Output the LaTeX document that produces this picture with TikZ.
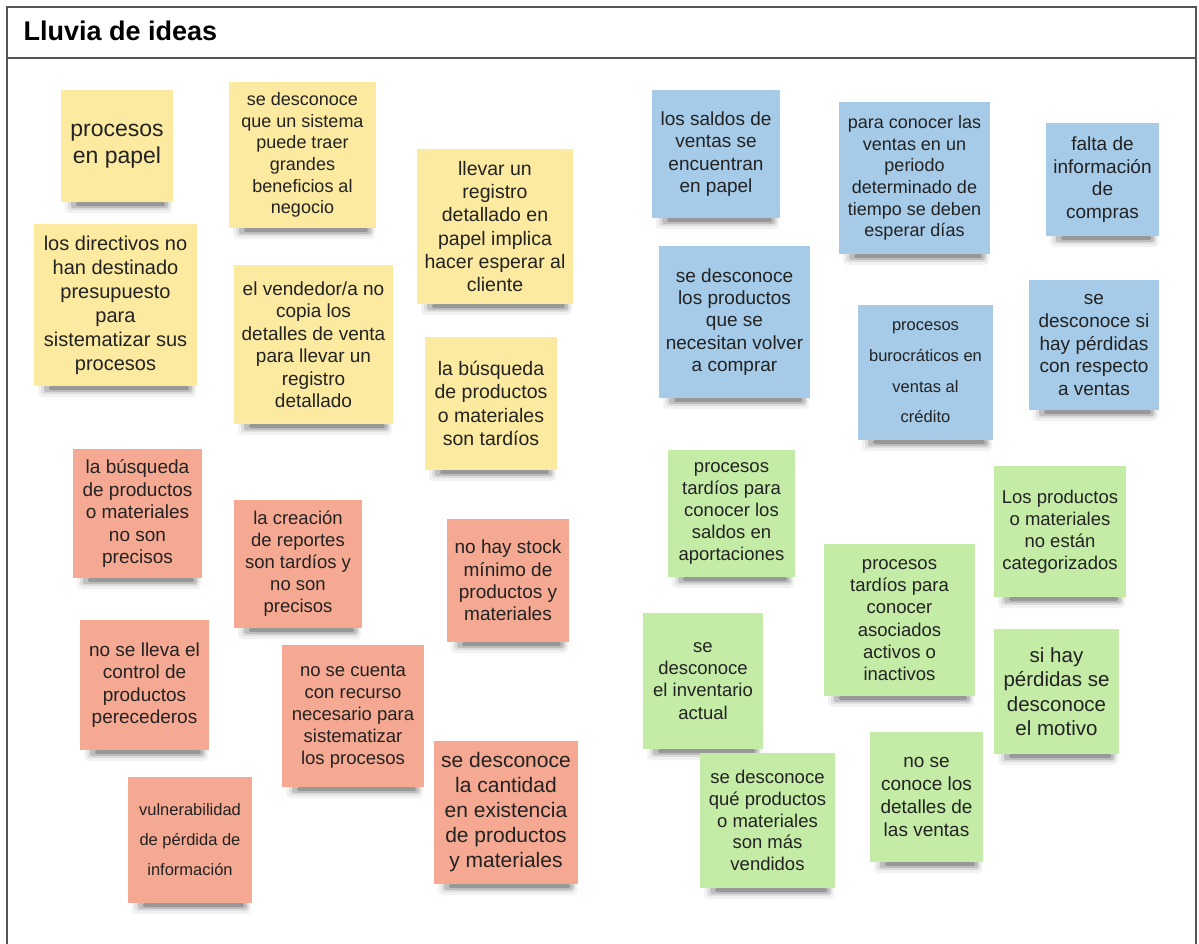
\documentclass[tikz,border=0pt]{standalone}
\usepackage{fontspec}
\setmainfont{Liberation Sans}
\definecolor{ynote}{RGB}{252,234,160}
\definecolor{rnote}{RGB}{246,169,146}
\definecolor{bnote}{RGB}{166,203,232}
\definecolor{gnote}{RGB}{196,236,167}
\definecolor{framecol}{RGB}{85,85,85}
\definecolor{notetext}{RGB}{34,34,34}
\tikzset{
  note/.style={rectangle, inner sep=0pt, align=center, text=notetext},
  framebox/.style={draw=framecol, line width=1.6pt},
}
\newcommand\stickynote[9]{%
  \fill[black,opacity=.05,rounded corners=4pt] (#2+4,#5-3) rectangle (#4-1,#5+11);
  \fill[black,opacity=.08,rounded corners=3pt] (#2+7,#5-2) rectangle (#4-3,#5+8);
  \fill[black,opacity=.14,rounded corners=2pt] (#2+10,#5-1) rectangle (#4-5,#5+6);
  \fill[black,opacity=.20,rounded corners=1.5pt] (#2+15,#5) rectangle (#4-8,#5+4);
  \pgfmathsetmacro\nw{#4-#2}\pgfmathsetmacro\nh{#5-#3}%
  \node[note,fill=#6,minimum width=\nw pt,minimum height=\nh pt,
        font=\fontsize{#7}{#8}\selectfont] (#1) at ({(#2+#4)/2},{(#3+#5)/2}) {#9};%
}
\begin{document}
\begin{tikzpicture}[x=1pt,y=-1pt]
\useasboundingbox (0,0) rectangle (1199,943);
\fill[white] (0,0) rectangle (1199,943);
% frame
\draw[framebox] (7,7) rectangle (1196,970);
\draw[framebox] (7,58) -- (1196,58);
\node[anchor=west, font=\fontsize{27}{30}\selectfont\bfseries, text=black] (title) at (20,31) {Lluvia de ideas};
% yellow
\stickynote{y1}{61}{90}{173}{202}{ynote}{23}{27.3}{procesos\\en papel}
\stickynote{y2}{229}{82}{376}{228}{ynote}{18}{21.6}{se desconoce\\que un sistema\\puede traer\\grandes\\beneficios al\\negocio}
\stickynote{y3}{34}{224}{197}{386}{ynote}{20}{24}{los directivos no\\han destinado\\presupuesto\\para\\sistematizar sus\\procesos}
\stickynote{y4}{234}{265}{393}{424}{ynote}{19}{22.5}{el vendedor/a no\\copia los\\detalles de venta\\para llevar un\\registro\\detallado}
\stickynote{y5}{417}{149}{573}{304}{ynote}{19.5}{23.2}{llevar un\\registro\\detallado en\\papel implica\\hacer esperar al\\cliente}
\stickynote{y6}{425}{337}{557}{470}{ynote}{19.5}{23.3}{la búsqueda\\de productos\\o materiales\\son tardíos}
% red
\stickynote{r1}{73}{449}{202}{578}{rnote}{19}{22.5}{la búsqueda\\de productos\\o materiales\\no son\\precisos}
\stickynote{r2}{234}{500}{362}{628}{rnote}{18.5}{22}{la creación\\de reportes\\son tardíos y\\no son\\precisos}
\stickynote{r3}{447}{519}{569}{642}{rnote}{19}{22.4}{no hay stock\\mínimo de\\productos y\\materiales}
\stickynote{r4}{80}{620}{209}{750}{rnote}{19}{22.6}{no se lleva el\\control de\\productos\\perecederos}
\stickynote{r5}{282}{645}{424}{787}{rnote}{18.5}{22}{no se cuenta\\con recurso\\necesario para\\sistematizar\\los procesos}
\stickynote{r6}{128}{777}{252}{903}{rnote}{16.5}{30}{vulnerabilidad\\de pérdida de\\información}
\stickynote{r7}{434}{741}{578}{884}{rnote}{21}{25}{se desconoce\\la cantidad\\en existencia\\de productos\\y materiales}
% blue
\stickynote{b1}{652}{90}{780}{218}{bnote}{19}{22.6}{los saldos de\\ventas se\\encuentran\\en papel}
\stickynote{b2}{839}{102}{990}{254}{bnote}{18}{21.6}{para conocer las\\ventas en un\\periodo\\determinado de\\tiempo se deben\\esperar días}
\stickynote{b3}{1046}{123}{1159}{236}{bnote}{19}{22.6}{falta de\\información\\de\\compras}
\stickynote{b4}{659}{246}{810}{398}{bnote}{19}{22.3}{se desconoce\\los productos\\que se\\necesitan volver\\a comprar}
\stickynote{b5}{858}{305}{993}{440}{bnote}{16.5}{30.7}{procesos\\burocráticos en\\ventas al\\crédito}
\stickynote{b6}{1029}{280}{1159}{410}{bnote}{19}{22.7}{se\\desconoce si\\hay pérdidas\\con respecto\\a ventas}
% green
\stickynote{g1}{668}{450}{795}{577}{gnote}{18.5}{21.8}{procesos\\tardíos para\\conocer los\\saldos en\\aportaciones}
\stickynote{g2}{994}{466}{1126}{597}{gnote}{18.5}{22}{Los productos\\o materiales\\no están\\categorizados}
\stickynote{g3}{824}{544}{975}{696}{gnote}{18.5}{22.3}{procesos\\tardíos para\\conocer\\asociados\\activos o\\inactivos}
\stickynote{g4}{643}{613}{763}{749}{gnote}{18.5}{22.1}{se\\desconoce\\el inventario\\actual}
\stickynote{g5}{994}{629}{1119}{754}{gnote}{20.5}{24.4}{si hay\\pérdidas se\\desconoce\\el motivo}
\stickynote{g6}{870}{732}{983}{862}{gnote}{19}{22.9}{no se\\conoce los\\detalles de\\las ventas}
\stickynote{g7}{700}{753}{835}{888}{gnote}{18.5}{21.8}{se desconoce\\qué productos\\o materiales\\son más\\vendidos}
\end{tikzpicture}
\end{document}
